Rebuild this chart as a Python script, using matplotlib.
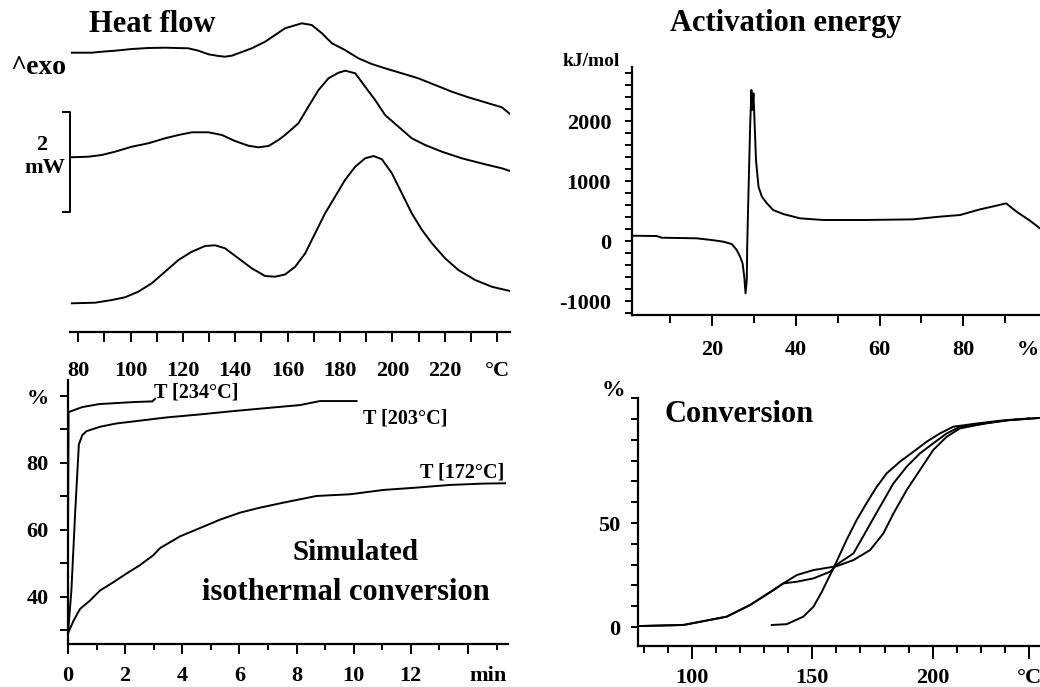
import matplotlib.pyplot as plt
from matplotlib.ticker import MultipleLocator

plt.rcParams['font.family'] = ['Liberation Serif', 'DejaVu Serif']
plt.rcParams['font.weight'] = 'bold'
plt.rcParams['axes.unicode_minus'] = False

# Heat flow (DSC) curves, temperature in degC, signal in mW (offset)
hf_top_T = [77.6, 85.2, 89.0, 94.1, 100.5, 106.8, 113.2, 122.1, 125.9, 129.8, 133.6,
            136.1, 138.7, 142.5, 146.3, 151.4, 156.5, 159.0, 165.4, 169.2, 173.1, 176.9,
            181.9, 187.0, 192.1, 197.2, 203.6, 209.9, 216.3, 222.7, 229.0, 235.4, 241.8, 244.9]
hf_top = [5.746, 5.746, 5.766, 5.786, 5.82, 5.84, 5.846, 5.834, 5.786, 5.714, 5.68,
          5.666, 5.686, 5.76, 5.834, 5.966, 6.146, 6.234, 6.334, 6.30, 6.134, 5.934,
          5.80, 5.634, 5.52, 5.434, 5.334, 5.234, 5.10, 4.966, 4.854, 4.754, 4.654, 4.52]
hf_mid_T = [76.9, 83.9, 89.0, 94.1, 100.5, 106.8, 113.2, 118.3, 123.4, 129.8, 134.9,
            139.9, 145.0, 148.8, 152.7, 156.5, 159.0, 164.1, 167.9, 171.8, 175.6, 179.4,
            182.0, 185.8, 189.6, 193.4, 197.2, 202.3, 207.4, 212.5, 218.9, 226.5, 235.4,
            241.8, 244.9]
hf_mid = [3.654, 3.666, 3.70, 3.766, 3.866, 3.934, 4.034, 4.10, 4.154, 4.154, 4.10,
          3.98, 3.886, 3.854, 3.88, 4.00, 4.10, 4.334, 4.666, 5.00, 5.234, 5.346,
          5.386, 5.334, 5.066, 4.80, 4.50, 4.266, 4.034, 3.90, 3.766, 3.634, 3.514,
          3.434, 3.38]
hf_bot_T = [77.6, 86.5, 92.9, 97.9, 103.0, 108.1, 113.2, 118.3, 123.4, 128.5, 132.3,
            136.1, 141.2, 146.3, 151.4, 155.2, 159.0, 162.9, 166.7, 170.5, 174.3, 178.1,
            181.9, 185.8, 189.6, 192.8, 196.0, 199.8, 203.6, 207.4, 211.3, 215.1, 220.1,
            225.2, 231.6, 237.9, 244.9]
hf_bot = [0.734, 0.746, 0.80, 0.854, 0.966, 1.134, 1.366, 1.60, 1.766, 1.88, 1.894,
          1.834, 1.634, 1.434, 1.28, 1.266, 1.31, 1.466, 1.734, 2.134, 2.534, 2.866,
          3.20, 3.466, 3.634, 3.68, 3.614, 3.334, 2.934, 2.534, 2.20, 1.934, 1.634,
          1.40, 1.20, 1.066, 0.98]
hf_ticks = [80, 100, 120, 140, 160, 180, 200, 220, 240]
hf_ticklabels = ['80', '100', '120', '140', '160', '180', '200', '220', '°C']

# Activation energy (kJ/mol) vs conversion (%)
ea_alpha = [1.07, 6.8, 8.0, 16.3, 19.9, 22.7, 24.7, 25.9, 26.7, 27.3, 27.7, 28.0,
            28.3, 28.4, 28.7, 29.1, 29.4, 29.6, 29.9, 30.2, 30.5, 31.1, 31.9, 33.1,
            34.6, 37.0, 41.0, 46.6, 56.1, 68.0, 74.4, 79.2, 84.0, 87.9, 90.2, 92.7,
            95.9, 98.3]
ea_kj = [88, 83, 55, 45, 17, -11, -50, -150, -261, -372, -594, -872,
         -650, -94, 794, 1906, 2517, 2183, 2461, 1906, 1350, 906, 739, 628,
         517, 450, 378, 350, 350, 361, 406, 433, 528, 589, 628, 489,
         339, 211]
ea_yticks = [-1000, 0, 1000, 2000]

# Simulated isothermal conversion, time in min, conversion in %
iso_t234 = [0.0, 0.0, 0.02, 0.5, 1.1, 1.7, 2.3, 2.95, 3.05]
iso_c234 = [29.0, 60.0, 95.2, 96.7, 97.6, 97.9, 98.2, 98.4, 99.2]
iso_t203 = [0.0, 0.12, 0.25, 0.38, 0.5, 0.65, 1.12, 1.7, 2.29, 3.45, 4.62,
            5.79, 6.95, 8.12, 8.82, 10.1]
iso_c203 = [29.0, 42.0, 65.0, 85.5, 88.3, 89.5, 90.8, 91.8, 92.4, 93.6, 94.5,
            95.5, 96.4, 97.3, 98.5, 98.5]
iso_t172 = [0.01, 0.19, 0.42, 0.77, 1.12, 1.59, 2.05, 2.52, 2.99, 3.22, 3.92,
            4.62, 5.32, 6.02, 6.72, 7.54, 8.7, 9.87, 11.04, 12.2, 13.37, 14.54, 15.3]
iso_c172 = [29.2, 32.7, 36.3, 38.8, 41.8, 44.3, 46.9, 49.4, 52.4, 54.5, 58.0,
            60.5, 63.0, 65.1, 66.6, 68.1, 70.1, 70.6, 71.9, 72.6, 73.4, 73.8, 73.9]
iso_labels = ['T [234°C]', 'T [203°C]', 'T [172°C]']

# Conversion (%) vs temperature for three heating rates
conv_T1 = [78.5, 96.5, 103.3, 114.5, 124.2, 133.9, 138.0, 143.6, 150.5, 158.8,
           167.1, 172.6, 178.1, 183.7, 189.2, 194.7, 200.2, 205.8, 211.3, 220, 230, 244]
conv_a1 = [0.5, 1.0, 2.5, 5.0, 10.6, 17.8, 21.0, 25.0, 27.4, 29.0,
           35.4, 46.6, 57.8, 69.1, 77.1, 83.5, 88.3, 93.1, 96.3, 97.6, 99.3, 100.5]
conv_T2 = [78.5, 96.5, 103.3, 114.5, 124.2, 133.9, 138.0, 143.6, 150.5, 157.4, 159.5,
           167.1, 174.0, 179.5, 183.7, 189.2, 194.7, 200.2, 205.8, 211.3, 222, 232, 244]
conv_a2 = [0.5, 1.0, 2.5, 5.0, 10.6, 17.8, 21.0, 21.8, 23.4, 26.6, 29.0,
           32.2, 37.0, 45.0, 54.6, 65.9, 75.5, 85.1, 91.5, 95.5, 97.9, 99.5, 100.5]
conv_T3 = [133.2, 139.4, 146.3, 150.5, 154.0, 156.7, 158.8, 164.2, 168.4, 172.5,
           176.8, 180.9, 186.4, 192.0, 197.5, 203.0, 208.5, 218, 228, 240]
conv_a3 = [1.0, 1.4, 5.0, 9.8, 17.0, 23.4, 28.2, 41.8, 51.4, 59.5,
           67.5, 73.9, 79.5, 84.3, 89.1, 93.1, 96.3, 97.8, 99.2, 100.3]


W, H = 1040, 687


def box(x0, y0, x1, y1):
    # pixel box (top-left origin) -> figure fraction rect
    return [x0 / W, 1 - y1 / H, (x1 - x0) / W, (y1 - y0) / H]


def ftext(px, py, s, **kw):
    fig.text(px / W, 1 - py / H, s, ha=kw.pop('ha', 'center'), va=kw.pop('va', 'center'), **kw)


def style_axis(ax):
    for s in ['top', 'right']:
        ax.spines[s].set_visible(False)
    for s in ['left', 'bottom']:
        ax.spines[s].set_linewidth(1.6)
    ax.tick_params(which='both', direction='out', width=1.4, labelsize=16)


fig = plt.figure(figsize=(10.4, 6.87), dpi=100)
lw = 1.4

# --- Heat flow ---
ax1 = fig.add_axes(box(70, 10, 510, 332))
style_axis(ax1)
ax1.spines['left'].set_visible(False)
ax1.plot(hf_top_T, hf_top, color='k', lw=lw)
ax1.plot(hf_mid_T, hf_mid, color='k', lw=lw)
ax1.plot(hf_bot_T, hf_bot, color='k', lw=lw)
ax1.set_xlim(76.9, 244.9)
ax1.set_ylim(0.16, 6.6)
ax1.set_yticks([])
ax1.set_xticks(hf_ticks)
ax1.set_xticklabels(hf_ticklabels)
ax1.xaxis.set_minor_locator(MultipleLocator(10))
ax1.tick_params(axis='x', which='both', length=7, pad=14)
# 2 mW scale bar
bar_x, bar_tick, bar_top = 76.9, 74.3, 4.56
ax1.plot([bar_tick, bar_x, bar_x, bar_tick], [bar_top, bar_top, bar_top - 2, bar_top - 2],
         color='k', lw=1.4, clip_on=False)
ftext(42, 145, '2', fontsize=16)
ftext(45, 168, 'mW', fontsize=16)
ftext(38, 67, '^exo', fontsize=20)
ftext(152, 24, 'Heat flow', fontsize=22)

# --- Activation energy ---
ax2 = fig.add_axes(box(632, 67, 1040, 315))
style_axis(ax2)
ax2.plot(ea_alpha, ea_kj, color='k', lw=lw)
ax2.set_xlim(0.9, 98.3)
ax2.set_ylim(-1233, 2900)
ax2.set_xticks([20, 40, 60, 80, 95.5])
ax2.set_xticklabels(['20', '40', '60', '80', '%'])
ax2.xaxis.get_major_ticks()[-1].tick1line.set_visible(False)
ax2.xaxis.set_minor_locator(MultipleLocator(10))
ax2.set_yticks(ea_yticks)
ax2.yaxis.set_minor_locator(MultipleLocator(200))
ax2.tick_params(axis='x', which='major', length=8, pad=10)
ax2.tick_params(axis='x', which='minor', length=6)
ax2.tick_params(axis='y', which='both', length=5, pad=10)
ftext(620, 62, 'kJ/mol', fontsize=14, ha='right')
ftext(786, 24, 'Activation energy', fontsize=22)

# --- Simulated isothermal conversion ---
ax3 = fig.add_axes(box(68, 380, 508, 644))
style_axis(ax3)
ax3.plot(iso_t234, iso_c234, color='k', lw=lw)
ax3.plot(iso_t203, iso_c203, color='k', lw=lw)
ax3.plot(iso_t172, iso_c172, color='k', lw=lw)
ax3.set_xlim(0, 15.4)
ax3.set_ylim(25.8, 104.8)
ax3.set_xticks([0, 2, 4, 6, 8, 10, 12, 14, 14.7])
ax3.set_xticklabels(['0', '2', '4', '6', '8', '10', '12', '', 'min'])
ax3.xaxis.get_major_ticks()[-1].tick1line.set_visible(False)
ax3.xaxis.set_minor_locator(MultipleLocator(1))
ax3.set_yticks([40, 60, 80, 100])
ax3.set_yticklabels(['40', '60', '80', '%'])
ax3.yaxis.set_minor_locator(MultipleLocator(10))
ax3.tick_params(axis='x', which='major', length=7, pad=9)
ax3.tick_params(axis='x', which='minor', length=4)
ax3.tick_params(axis='y', which='both', length=6, pad=8)
ftext(196, 393, iso_labels[0], fontsize=14.5)
ftext(405, 418, iso_labels[1], fontsize=14.5)
ftext(462, 472, iso_labels[2], fontsize=14.5)
ftext(355, 552, 'Simulated', fontsize=21)
ftext(346, 592, 'isothermal conversion', fontsize=22)

# --- Conversion ---
ax4 = fig.add_axes(box(638, 398, 1040, 646))
style_axis(ax4)
ax4.plot(conv_T1, conv_a1, color='k', lw=lw)
ax4.plot(conv_T2, conv_a2, color='k', lw=lw)
ax4.plot(conv_T3, conv_a3, color='k', lw=lw)
ax4.set_xlim(77.7, 244.5)
ax4.set_ylim(-9.1, 110.1)
ax4.set_xticks([100, 150, 200, 240])
ax4.set_xticklabels(['100', '150', '200', '°C'])
ax4.xaxis.set_minor_locator(MultipleLocator(10))
ax4.set_yticks([0, 50, 100])
ax4.set_yticklabels(['0', '50', ''])
ax4.yaxis.set_minor_locator(MultipleLocator(10))
ax4.tick_params(axis='x', which='major', length=9, pad=7)
ax4.tick_params(axis='x', which='minor', length=5)
ax4.tick_params(axis='y', which='both', length=5, pad=8)
ftext(613, 390, '%', fontsize=17)
ftext(665, 415, 'Conversion', fontsize=22, ha='left')

fig.savefig('out.png', dpi=100)
